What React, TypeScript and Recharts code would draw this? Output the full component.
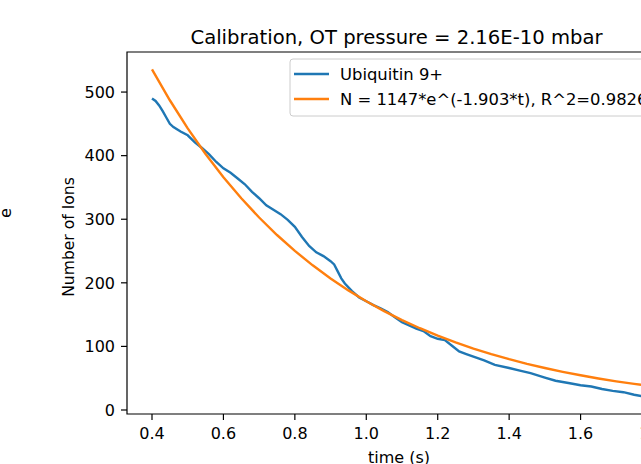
import React from 'react';
import { LineChart, Line, XAxis, YAxis, ReferenceArea } from 'recharts';

const chartTitle = 'Calibration, OT pressure = 2.16E-10 mbar';
const xLabel = 'time (s)';
const yLabel = 'Number of Ions';
const seriesNames = ['Ubiquitin 9+', 'N = 1147*e^(-1.903*t), R^2=0.9826'];
const seriesColors = ['#1f77b4', '#ff7f0e'];

const measuredTimes = [
  0.4, 0.41, 0.42, 0.43, 0.44, 0.45, 0.46, 0.48, 0.5, 0.52, 0.54, 0.55, 0.56, 0.58, 0.6, 0.62,
  0.64, 0.66, 0.68, 0.7, 0.72, 0.74, 0.76, 0.78, 0.8, 0.82, 0.84, 0.86, 0.88, 0.9, 0.91, 0.92,
  0.93, 0.94, 0.96, 0.98, 1.0, 1.02, 1.04, 1.06, 1.08, 1.1, 1.12, 1.14, 1.16, 1.18, 1.2, 1.22,
  1.24, 1.26, 1.28, 1.3, 1.33, 1.36, 1.4, 1.43, 1.46, 1.5, 1.53, 1.57, 1.6, 1.63, 1.66, 1.69,
  1.72, 1.75, 1.78, 1.8,
];
const measuredIons = [
  490, 486, 479, 470, 460, 450, 445, 438, 432, 421, 412, 407, 402, 390, 380, 373,
  364, 355, 343, 333, 322, 315, 308, 299, 288, 272, 258, 248, 242, 234, 229, 218,
  207, 199, 187, 177, 171, 165, 160, 154, 146, 138, 133, 128, 124, 116, 112, 110,
  101, 92, 88, 84, 78, 71, 66, 62, 58, 51, 46, 42, 39, 37, 33, 30,
  28, 24, 21, 19,
];

const fitTimes = [
  0.4, 0.45, 0.5, 0.55, 0.6, 0.65, 0.7, 0.75, 0.8, 0.85, 0.9, 0.95, 1.0, 1.05, 1.1,
  1.15, 1.2, 1.25, 1.3, 1.35, 1.4, 1.45, 1.5, 1.55, 1.6, 1.65, 1.7, 1.75, 1.8,
];
const fitIons = [
  535.8, 487.1, 442.9, 402.7, 366.1, 332.9, 302.7, 275.2, 250.2, 227.5, 206.9, 188.1, 171.0,
  155.5, 141.4, 128.6, 116.9, 106.3, 96.6, 87.9, 79.9, 72.6, 66.0, 60.0, 54.6, 49.6, 45.1,
  41.0, 37.3,
];

const xTicks = [0.4, 0.6, 0.8, 1.0, 1.2, 1.4, 1.6, 1.8];
const yTicks = [0, 100, 200, 300, 400, 500];
const xDomain: [number, number] = [0.33, 1.87];
const yDomain: [number, number] = [-6.3, 563];

const measuredData = measuredTimes.map((t, i) => ({ t, n: measuredIons[i] }));
const fitData = fitTimes.map((t, i) => ({ t, n: fitIons[i] }));

const FONT = 'DejaVu Sans, sans-serif';
const tickStyle = { fill: '#000', fontSize: 16, fontFamily: FONT };

export default function App() {
  return (
    <div style={{ width: 625, height: 456 }}>
      <div
        style={{
          position: 'fixed',
          left: 0,
          top: 0,
          width: 641,
          height: 464,
          overflow: 'hidden',
          background: '#fff',
        }}
      >
        <LineChart width={700} height={464} margin={{ top: 52, right: 23, bottom: 0, left: 67 }}>
          <XAxis
            dataKey="t"
            type="number"
            domain={xDomain}
            ticks={xTicks}
            interval={0}
            allowDataOverflow
            tickFormatter={(v: number) => v.toFixed(1)}
            tickSize={6}
            tickMargin={8}
            axisLine={false}
            tickLine={{ stroke: '#000', strokeWidth: 1.2 }}
            tick={tickStyle}
            height={50}
          />
          <YAxis
            dataKey="n"
            type="number"
            domain={yDomain}
            ticks={yTicks}
            interval={0}
            allowDataOverflow
            tickSize={6}
            tickMargin={6}
            axisLine={false}
            tickLine={{ stroke: '#000', strokeWidth: 1.2 }}
            tick={tickStyle}
            width={60}
          />
          <ReferenceArea
            x1={xDomain[0]}
            x2={xDomain[1]}
            y1={yDomain[0]}
            y2={yDomain[1]}
            fill="none"
            fillOpacity={0}
            stroke="#000"
            strokeWidth={1.2}
            ifOverflow="visible"
          />
          <Line
            data={measuredData}
            dataKey="n"
            type="linear"
            stroke={seriesColors[0]}
            strokeWidth={2.4}
            dot={false}
            isAnimationActive={false}
          />
          <Line
            data={fitData}
            dataKey="n"
            type="linear"
            stroke={seriesColors[1]}
            strokeWidth={2.4}
            dot={false}
            isAnimationActive={false}
          />
        </LineChart>
        <svg
          width={700}
          height={464}
          style={{ position: 'absolute', left: 0, top: 0, pointerEvents: 'none' }}
          fontFamily={FONT}
        >
          <text x={396.5} y={44} textAnchor="middle" fontSize={19.6} fill="#000">
            {chartTitle}
          </text>
          <text x={399} y={463} textAnchor="middle" fontSize={16} fill="#000">
            {xLabel}
          </text>
          <text transform="translate(74,237) rotate(-90)" textAnchor="middle" fontSize={15.6} fill="#000">
            {yLabel}
          </text>
          <text transform="translate(11,213) rotate(-90)" textAnchor="middle" fontSize={16} fill="#000">
            e
          </text>
          <rect x={290} y={59} width={381} height={57} rx={3} fill="#fff" fillOpacity={0.8} stroke="#cccccc" strokeWidth={1} />
          <line x1={294} x2={329} y1={74} y2={74} stroke={seriesColors[0]} strokeWidth={2.4} />
          <line x1={294} x2={329} y1={99} y2={99} stroke={seriesColors[1]} strokeWidth={2.4} />
          <text x={340} y={80} fontSize={16.4} fill="#000">
            {seriesNames[0]}
          </text>
          <text x={340} y={105} fontSize={16.4} fill="#000">
            {seriesNames[1]}
          </text>
        </svg>
      </div>
    </div>
  );
}
